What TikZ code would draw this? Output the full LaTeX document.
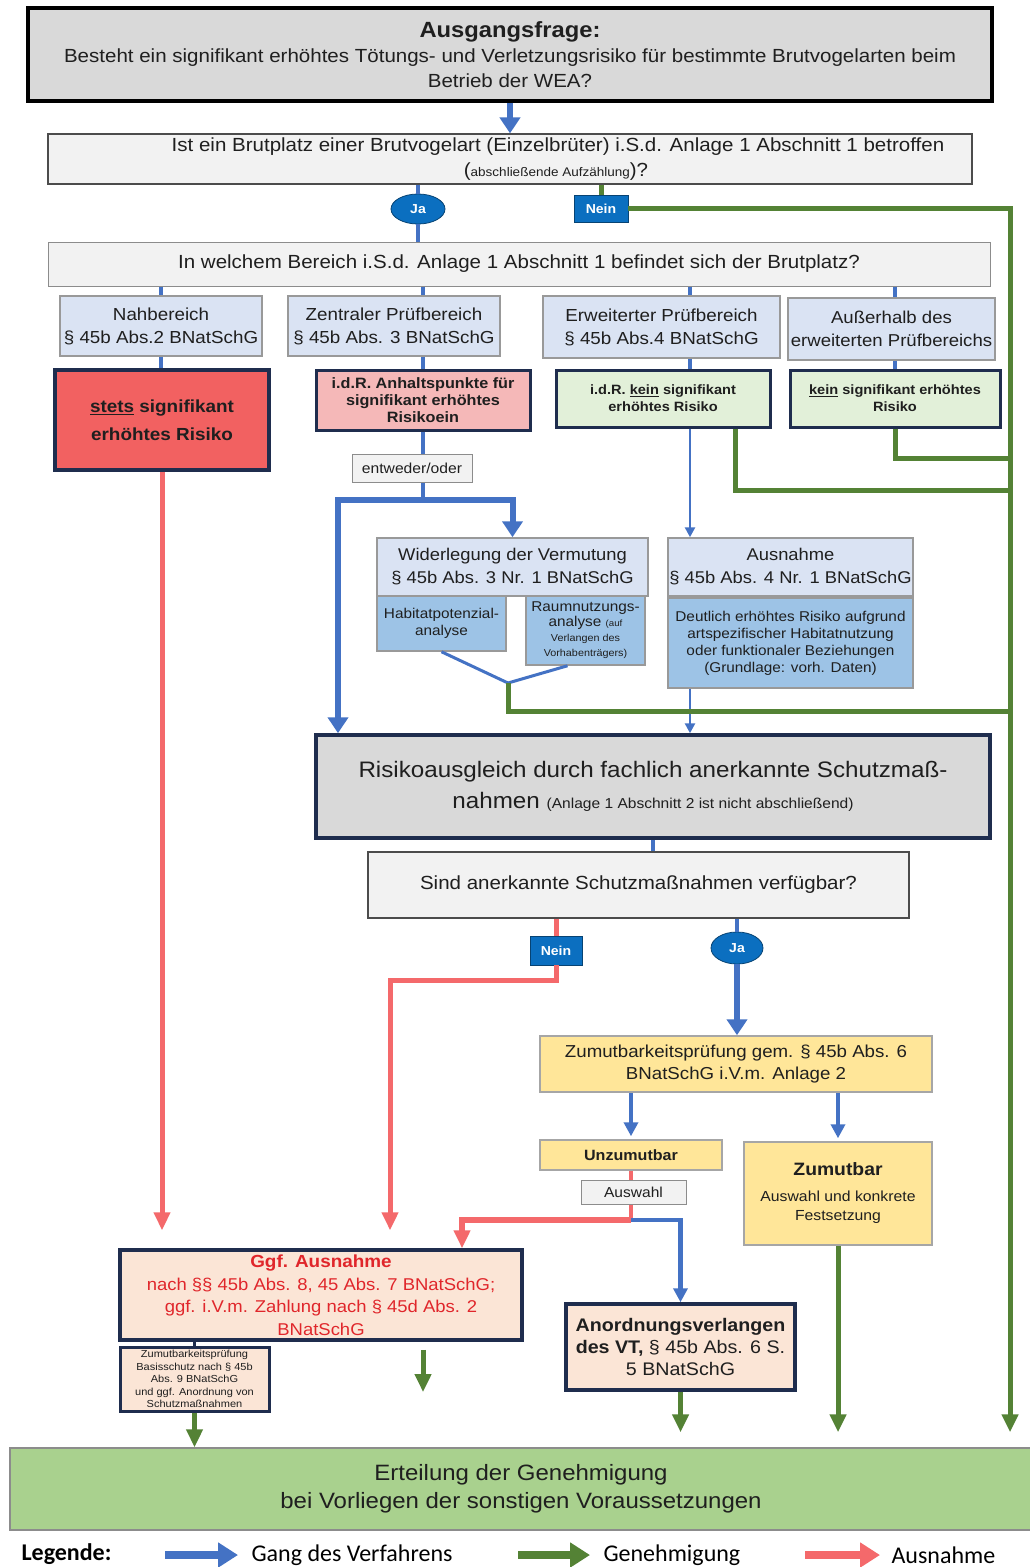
\documentclass[tikz,border=0pt]{standalone}
\usepackage{fontspec}
\setmainfont{Liberation Sans}[FakeStretch=1.08]
\newfontfamily\legfont{Carlito}
\usetikzlibrary{arrows.meta,shapes.geometric}
\newcommand\fsz[2]{\fontsize{#1}{#2}\selectfont}
\definecolor{blu}{HTML}{4472C4}
\definecolor{grn}{HTML}{548235}
\definecolor{rd}{HTML}{F4696B}
\definecolor{navy}{HTML}{1F2D4E}
\definecolor{lgray}{HTML}{F2F2F2}
\definecolor{dgray}{HTML}{D9D9D9}
\definecolor{lblue}{HTML}{DAE3F3}
\definecolor{mblue}{HTML}{9DC3E6}
\definecolor{lgreen}{HTML}{E2F0D9}
\definecolor{pink}{HTML}{F5B8B8}
\definecolor{rbox}{HTML}{F26161}
\definecolor{yel}{HTML}{FFE699}
\definecolor{peach}{HTML}{FBE5D6}
\definecolor{ggreen}{HTML}{A9D18E}
\definecolor{jblue}{HTML}{0B6FC0}
\definecolor{redt}{HTML}{E0262B}
\begin{document}
\begin{tikzpicture}[x=1pt,y=-1pt,
    sz/.style 2 args={minimum width=#1,minimum height=#2},
    bx/.style={rectangle,inner sep=0pt,align=center,text=black!88},
    gbox/.style={bx,draw=black!45,fill=lgray,line width=1},
    qbox/.style={bx,draw=black!70,fill=lgray,line width=1.2},
    bbox/.style={bx,draw=black!40,fill=lblue,line width=1.5},
    mbox/.style={bx,draw=black!40,fill=mblue,line width=1.5},
    nbox/.style={bx,draw=navy,line width=3.5},
    ybox/.style={bx,draw=black!35,fill=yel,line width=1.5},
    jn/.style={inner sep=0pt,fill=jblue,draw=jblue!60!black,line width=0.8,text=white,font=\bfseries\fsz{13}{15}},
    ln/.style={draw=blu,line width=4},
    lnt/.style={draw=blu,line width=6,-{Triangle[width=20pt,length=16pt]}},
    lnm/.style={draw=blu,line width=4.5,-{Triangle[width=14pt,length=14pt]}},
    lns/.style={draw=blu,line width=2.5,-{Triangle[width=10pt,length=10pt]}},
    gl/.style={draw=grn,line width=5},
    ga/.style={gl,-{Triangle[width=16pt,length=18pt]}},
    rl/.style={draw=rd,line width=5},
    rarr/.style={rl,-{Triangle[width=16pt,length=18pt]}}]
\path[fill=white,use as bounding box](0,0)rectangle(1029,1567);
\node[nbox,draw=black,fill=dgray,sz={964}{93},font=\fsz{19}{25}](start)at(510,54.5){{\bfseries\fsz{22}{27}Ausgangsfrage:}\\Besteht ein signifikant erhöhtes Tötungs- und Verletzungsrisiko für bestimmte Brutvogelarten beim\\Betrieb der WEA?};
\node[qbox,sz={924}{50},font=\fsz{19}{25}](q1)at(510,159){\hspace*{96pt}Ist ein Brutplatz einer Brutvogelart (Einzelbrüter) i.S.d. Anlage 1 Abschnitt 1 betroffen\\\hspace*{92pt}({\fsz{12.5}{25}abschließende Aufzählung})?};
\node[gbox,sz={942}{44},font=\fsz{19}{23}](q2)at(519,264){In welchem Bereich i.S.d. Anlage 1 Abschnitt 1 befindet sich der Brutplatz?};
\node[bbox,sz={202}{60},font=\fsz{17.4}{23}](a1)at(161,326){Nahbereich\\§ 45b Abs.2 BNatSchG};
\node[bbox,sz={212}{60},font=\fsz{17.4}{23}](a2)at(394,326){Zentraler Prüfbereich\\§ 45b Abs. 3 BNatSchG};
\node[bbox,sz={237}{62},font=\fsz{17.4}{23}](a3)at(661.5,327){Erweiterter Prüfbereich\\§ 45b Abs.4 BNatSchG};
\node[bbox,sz={207}{62},font=\fsz{17.2}{23}](a4)at(891.5,329){Außerhalb des\\erweiterten Prüfbereichs};
\node[nbox,fill=rbox,sz={214}{100},font=\bfseries\fsz{17.5}{28}](r1)at(162,420){\underline{stets} signifikant\\erhöhtes Risiko};
\node[nbox,line width=3,fill=pink,sz={214}{60},font=\bfseries\fsz{15}{17}](r2)at(423,400){i.d.R. Anhaltspunkte für\\signifikant erhöhtes\\Risikoein};
\node[nbox,line width=3,fill=lgreen,sz={214}{57},font=\bfseries\fsz{13.5}{17}](r3)at(663,398.5){i.d.R. \underline{kein} signifikant\\erhöhtes Risiko};
\node[nbox,line width=3,fill=lgreen,sz={210}{57},font=\bfseries\fsz{13.5}{17}](r4)at(895,398.5){\underline{kein} signifikant erhöhtes\\Risiko};
\node[gbox,sz={120}{28},font=\fsz{14.5}{17}](eo)at(412,468){entweder/oder};
\node[bbox,sz={271}{58},font=\fsz{17}{23}](wid)at(512.5,567){Widerlegung der Vermutung\\§ 45b Abs. 3 Nr. 1 BNatSchG};
\node[mbox,sz={129}{55},font=\fsz{14.2}{17}](hab)at(441.5,623.5){Habitatpotenzial-\\analyse};
\node[mbox,sz={119}{69},font=\fsz{14.2}{15}](raum)at(585.5,630.5){Raumnutzungs-\\analyse {\fsz{9}{15}(auf}\\{\fsz{10}{12}Verlangen des}\\{\fsz{10}{12}Vorhabenträgers)}};
\node[bbox,sz={245}{58},font=\fsz{17}{23}](aus)at(790.5,567){Ausnahme\\§ 45b Abs. 4 Nr. 1 BNatSchG};
\node[mbox,sz={245}{90},font=\fsz{14.2}{17}](ausd)at(790.5,643){Deutlich erhöhtes Risiko aufgrund\\artspezifischer Habitatnutzung\\oder funktionaler Beziehungen\\(Grundlage: vorh. Daten)};
\node[nbox,fill=dgray,sz={674}{103},font=\fsz{22.4}{31}](ra)at(653,786.5){Risikoausgleich durch fachlich anerkannte Schutzmaß-\\nahmen {\fsz{14.4}{31}(Anlage 1 Abschnitt 2 ist nicht abschließend)}};
\node[qbox,sz={541}{66},font=\fsz{19}{23}](q3)at(638.5,885){Sind anerkannte Schutzmaßnahmen verfügbar?};
\node[ybox,sz={392}{56},font=\fsz{17.3}{22}](zp)at(736,1064){Zumutbarkeitsprüfung gem. § 45b Abs. 6\\BNatSchG i.V.m. Anlage 2};
\node[ybox,sz={182}{30},font=\bfseries\fsz{14.9}{17}](unz)at(631,1155){Unzumutbar};
\node[ybox,sz={188}{103},font=\fsz{14.6}{19}](zum)at(838,1193.5){{\bfseries\fsz{17.9}{27}Zumutbar}\\[7pt]Auswahl und konkrete\\Festsetzung};
\node[gbox,sz={105}{24},font=\fsz{14.4}{17}](ausw)at(633.5,1192){Auswahl};
\node[nbox,fill=peach,text=redt,sz={402}{90},font=\fsz{17.1}{22.5}](ggf)at(321,1295){{\bfseries\fsz{17.5}{22.5}Ggf. Ausnahme}\\nach §§ 45b Abs. 8, 45 Abs. 7 BNatSchG;\\ggf. i.V.m. Zahlung nach § 45d Abs. 2\\BNatSchG};
\node[nbox,line width=3,fill=peach,sz={149}{64},font=\fsz{10.2}{12.5}](bs)at(194.5,1379){Zumutbarkeitsprüfung\\Basisschutz nach § 45b\\Abs. 9 BNatSchG\\und ggf. Anordnung von\\Schutzmaßnahmen};
\node[nbox,fill=peach,sz={229}{86},font=\fsz{18.2}{22}](ano)at(680.5,1347){{\bfseries Anordnungsverlangen}\\{\bfseries des VT,} § 45b Abs. 6 S.\\5 BNatSchG};
\node[bx,draw=black!45,line width=1.5,fill=ggreen,sz={1022}{82},font=\fsz{22.2}{28}](ert)at(521,1489){Erteilung der Genehmigung\\bei Vorliegen der sonstigen Voraussetzungen};
\node[jn,ellipse,sz={54}{30}](ja1)at(418,209){Ja};
\node[jn,sz={54}{27}](nein1)at(601,208.5){Nein};
\node[jn,sz={52}{29}](nein2)at(556,950.5){Nein};
\node[jn,ellipse,sz={52}{32}](ja2)at(737,948){Ja};
\coordinate(rx)at(1010,0);
\coordinate(c3)at(690,0);
\coordinate(lx)at(338,0);
\coordinate(sp)at(423,500);
\coordinate(g1)at(735,490);
\coordinate(g2)at(1010,458);
\coordinate(g3)at(1010,711);
\coordinate(v)at(508,683);
\coordinate(nl)at(390,980);
\coordinate(sp2)at(631,1220);
\coordinate(rx2)at(462,0);
\coordinate(fa)at(423,1392);
\draw[lnt](start.south)--(q1.north);
\draw[ln](q1.south-|ja1)--(ja1.north)(ja1.south)--(q2.north-|ja1);
\draw[gl](q1.south-|nein1)--(nein1.north);
\draw[ga,shorten >=15](nein1.east)-|(ert.north-|rx);
\draw[ln](q2.south-|a1)--(a1.north)(a1.south)--(r1.north-|a1);
\draw[ln](q2.south-|r2)--(a2.north-|r2)(a2.south-|r2)--(r2.north)(r2.south)--(eo.north-|r2);
\draw[ln](q2.south-|c3)--(a3.north-|c3)(a3.south-|c3)--(r3.north-|c3);
\draw[ln](q2.south-|r4)--(a4.north-|r4)(a4.south-|r4)--(r4.north);
\draw[ln](eo.south-|sp)--(sp);
\draw[lnt](sp)-|(ra.north-|lx);
\draw[lnt](sp)-|(wid.north);
\draw[lns](r3.south-|c3)--(aus.north-|c3);
\draw[lns](ausd.south-|c3)--(ra.north-|c3);
\draw[gl](r3.south-|g1)|-(rx|-g1);
\draw[gl](r4.south)|-(g2);
\draw[draw=blu,line width=3](hab.south)--(v)--([xshift=-18]raum.south);
\draw[gl](v)|-(g3);
\draw[ln](ra.south)--(q3.north-|ra);
\draw[rl](q3.south-|nein2)--(nein2.north);
\draw[rarr,shorten >=18](nein2.south)|-(nl)--(ggf.north-|nl);
\draw[ln](q3.south-|ja2)--(ja2.north);
\draw[lnt](ja2.south)--(zp.north-|ja2);
\draw[rarr,shorten >=18](r1.south)--(ggf.north-|r1);
\draw[lnm,shorten >=3](zp.south-|unz)--(unz.north);
\draw[lnm,shorten >=3](zp.south-|zum)--(zum.north);
\draw[rl,line width=4](unz.south)--(ausw.north-|unz);
\draw[rl,line width=4](ausw.south-|sp2)--(sp2);
\draw[rarr,line width=6](sp2)-|(ggf.north-|rx2);
\draw[lnm](sp2)-|(ano.north);
\draw[draw=navy,line width=3](ggf.south-|bs)--(bs.north);
\draw[ga](bs.south)--(ert.north-|bs);
\draw[ga,shorten <=8](ggf.south-|fa)--(fa);
\draw[ga,shorten >=15](ano.south)--(ert.north-|ano);
\draw[ga,shorten >=15](zum.south)--(ert.north-|zum);
\node[anchor=west,font=\legfont\bfseries\fsz{24}{28}](lg)at(18,1554){Legende:};
\node[anchor=west,font=\legfont\fsz{24}{28}](l1)at(248,1555){Gang des Verfahrens};
\node[anchor=west,font=\legfont\fsz{24}{28}](l2)at(600,1555){Genehmigung};
\node[anchor=west,font=\legfont\fsz{24}{28}](l3)at(888,1555){Ausnahme};
\draw[draw=blu,line width=8,-{Triangle[width=24pt,length=20pt]}]([xshift=-83]l1.west)--([xshift=-10]l1.west);
\draw[draw=grn,line width=8,-{Triangle[width=24pt,length=20pt]}]([xshift=-82]l2.west)--([xshift=-10]l2.west);
\draw[draw=rd,line width=8,-{Triangle[width=24pt,length=20pt]}]([xshift=-83]l3.west)--([xshift=-8]l3.west);
\end{tikzpicture}
\end{document}
